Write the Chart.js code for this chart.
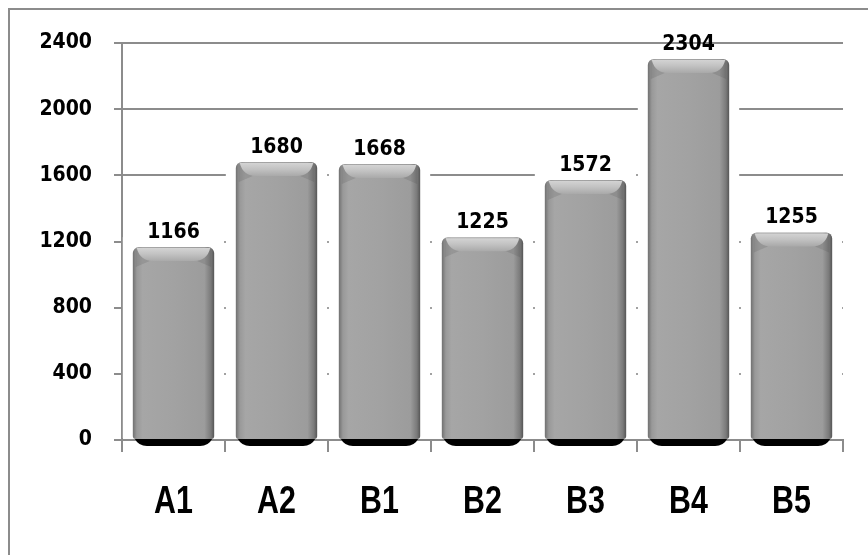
<!DOCTYPE html>
<html>
<head>
<meta charset="utf-8">
<script src="https://cdn.jsdelivr.net/npm/chart.js@4/dist/chart.umd.min.js"></script>
<style>
  html, body { margin: 0; padding: 0; background: #fff; }
  #wrap { width: 868px; height: 555px; position: relative; }
</style>
</head>
<body>
<div id="wrap"><canvas id="barChart"></canvas></div>
<script>
// --- Data ---
const categories = ['A1', 'A2', 'B1', 'B2', 'B3', 'B4', 'B5'];
const counts = [1166, 1680, 1668, 1225, 1572, 2304, 1255];
const yTicks = [0, 400, 800, 1200, 1600, 2000, 2400];

const GRID = '#8c8c8c';
const NUM_FONT = 'bold 21px "DejaVu Sans Condensed", "DejaVu Sans", sans-serif';

// frame: only left and top edges show in the picture
const framePlugin = {
    id: 'frame',
    beforeDraw(chart) {
        const c = chart.ctx;
        c.save();
        c.strokeStyle = GRID;
        c.lineWidth = 2;
        c.beginPath();
        c.moveTo(9, chart.height);
        c.lineTo(9, 9);
        c.lineTo(chart.width, 9);
        c.stroke();
        c.restore();
    }
};

// white halo behind each bar (cuts the gridlines like the original)
const haloPlugin = {
    id: 'halo',
    beforeDatasetsDraw(chart) {
        const c = chart.ctx;
        c.save();
        c.fillStyle = '#fff';
        chart.getDatasetMeta(0).data.forEach(bar => {
            const p = bar.getProps(['x', 'y', 'base', 'width'], true);
            c.fillRect(p.x - p.width / 2 - 10, p.y - 10, p.width + 20, p.base - p.y + 9);
        });
        c.restore();
    }
};

// bevelled grey look + shadow + value labels
const bevelPlugin = {
    id: 'bevel',
    afterDatasetsDraw(chart) {
        const c = chart.ctx;
        const meta = chart.getDatasetMeta(0);
        c.save();
        meta.data.forEach((bar, i) => {
            const p = bar.getProps(['x', 'y', 'base', 'width'], true);
            const l = p.x - p.width / 2, r = p.x + p.width / 2;
            const top = p.y, bot = p.base;

            // bottom shadow
            c.fillStyle = '#000';
            c.beginPath();
            c.moveTo(l + 2, bot);
            c.lineTo(r - 2, bot);
            c.quadraticCurveTo(r - 6, bot + 7, r - 14, bot + 7);
            c.lineTo(l + 14, bot + 7);
            c.quadraticCurveTo(l + 6, bot + 7, l + 2, bot);
            c.fill();

            // body with side shading
            const g = c.createLinearGradient(l, 0, r, 0);
            g.addColorStop(0, '#707070');
            g.addColorStop(0.05, '#999');
            g.addColorStop(0.12, '#a6a6a6');
            g.addColorStop(0.5, '#a2a2a2');
            g.addColorStop(0.88, '#9c9c9c');
            g.addColorStop(0.96, '#7a7a7a');
            g.addColorStop(1, '#555');
            c.fillStyle = g;
            c.beginPath();
            c.roundRect(l, top, p.width, bot - top, [6, 6, 3, 3]);
            c.fill();

            // top bevel: light trapezoid with softly shaded slanted corners
            const bh = 14;
            c.fillStyle = 'rgba(60,60,60,0.14)';
            c.beginPath();
            c.moveTo(l + 3, top + 2);
            c.lineTo(l + 3 + bh, top + bh);
            c.lineTo(l + 3, top + bh + 6);
            c.closePath();
            c.fill();
            c.beginPath();
            c.moveTo(r - 3, top + 2);
            c.lineTo(r - 3 - bh, top + bh);
            c.lineTo(r - 3, top + bh + 6);
            c.closePath();
            c.fill();

            const tg = c.createLinearGradient(0, top, 0, top + bh);
            tg.addColorStop(0, '#d6d6d6');
            tg.addColorStop(0.5, '#c2c2c2');
            tg.addColorStop(1, '#a9a9a9');
            c.fillStyle = tg;
            c.beginPath();
            c.moveTo(l + 4, top + 1);
            c.lineTo(r - 4, top + 1);
            c.quadraticCurveTo(r - 7, top + bh, r - 4 - bh - 3, top + bh);
            c.lineTo(l + 4 + bh + 3, top + bh);
            c.quadraticCurveTo(l + 7, top + bh, l + 4, top + 1);
            c.closePath();
            c.fill();

            // value label
            c.fillStyle = '#000';
            c.font = NUM_FONT;
            c.textAlign = 'center';
            c.textBaseline = 'alphabetic';
            c.fillText(String(counts[i]), p.x, top - 9);
        });
        c.restore();
    }
};

// category labels in a narrow bold face (squeezed horizontally)
const catLabelPlugin = {
    id: 'catLabels',
    afterDraw(chart) {
        const c = chart.ctx;
        const xs = chart.scales.x;
        c.save();
        c.fillStyle = '#000';
        c.font = 'bold 38px "Liberation Sans", Arial, sans-serif';
        c.textAlign = 'center';
        c.textBaseline = 'alphabetic';
        categories.forEach((cat, i) => {
            const x = xs.getPixelForValue(i);
            c.save();
            c.translate(x, 513);
            c.scale(0.8, 1);
            c.fillText(cat, 0, 0);
            c.restore();
        });
        c.restore();
    }
};

new Chart(document.getElementById('barChart'), {
    type: 'bar',
    data: {
        labels: categories,
        datasets: [{
            data: counts,
            backgroundColor: 'rgba(0,0,0,0)',
            borderWidth: 0,
            barPercentage: 0.79,
            categoryPercentage: 1
        }]
    },
    options: {
        responsive: true,
        maintainAspectRatio: false,
        animation: false,
        layout: { padding: { left: 0, right: 25, top: 43, bottom: 0 } },
        plugins: { legend: { display: false }, tooltip: { enabled: false } },
        scales: {
            x: {
                afterFit: axis => { axis.height = 115; },
                grid: { drawOnChartArea: false, drawTicks: true, tickLength: 12, color: GRID, lineWidth: 2, offset: true },
                border: { display: true, color: GRID, width: 2 },
                ticks: { color: 'rgba(0,0,0,0)', padding: 20, font: { size: 30 } }
            },
            y: {
                min: 0,
                max: 2400,
                afterBuildTicks: axis => { axis.ticks = yTicks.map(v => ({ value: v })); },
                afterFit: axis => { axis.width = 122; },
                grid: { color: GRID, lineWidth: 2, tickLength: 8 },
                border: { display: true, color: GRID, width: 2 },
                ticks: {
                    color: '#000',
                    padding: 22,
                    callback: v => String(v),
                    font: { family: '"DejaVu Sans Condensed", "DejaVu Sans", sans-serif', size: 21, weight: 'bold' }
                }
            }
        }
    },
    plugins: [framePlugin, haloPlugin, bevelPlugin, catLabelPlugin]
});
</script>
</body>
</html>
